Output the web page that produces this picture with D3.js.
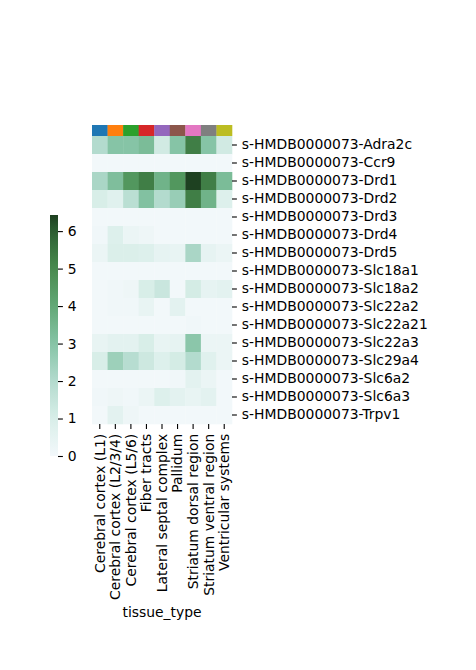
<!DOCTYPE html>
<html>
<head>
<meta charset="utf-8">
<script src="https://cdn.jsdelivr.net/npm/d3@7"></script>
<style>
  body { margin: 0; background: #fff; }
  text { font-family: "DejaVu Sans", sans-serif; fill: #000; }
  .axis path { display: none; }
  .axis line { stroke: #000; stroke-width: 1.1; }
</style>
</head>
<body>
<div class="container"></div>
<script>
const WIDTH = 476;
const HEIGHT = 670;

const HM_LEFT = 92, HM_RIGHT = 232;
const HM_TOP = 136, HM_BOTTOM = 424;
const CC_TOP = 125;
const CB_LEFT = 50, CB_RIGHT = 58, CB_TOP = 215, CB_BOTTOM = 456;
const VMAX = 6.43;
const TICK = 4.9, PAD = 4.9;

var tissues = ["Cerebral cortex (L1)", "Cerebral cortex (L2/3/4)", "Cerebral cortex (L5/6)",
  "Fiber tracts", "Lateral septal complex", "Pallidum", "Striatum dorsal region",
  "Striatum ventral region", "Ventricular systems"];

var tissueColors = ["#1f77b4", "#ff7f0e", "#2ca02c", "#d62728", "#9467bd",
  "#8c564b", "#e377c2", "#7f7f7f", "#bcbd22"];

var genes = ["Adra2c", "Ccr9", "Drd1", "Drd2", "Drd3", "Drd4", "Drd5", "Slc18a1",
  "Slc18a2", "Slc22a2", "Slc22a21", "Slc22a3", "Slc29a4", "Slc6a2", "Slc6a3", "Trpv1"];

var rowPrefix = "s-HMDB0000073-";

var values = [
  [2.0, 3.0, 3.0, 3.3, 1.2, 3.0, 5.3, 3.0, 1.2],
  [0.05, 0.05, 0.05, 0.05, 0.05, 0.05, 0.05, 0.05, 0.05],
  [2.2, 3.2, 4.6, 5.3, 3.6, 4.6, 6.4, 5.3, 3.3],
  [1.0, 0.7, 1.8, 3.1, 2.0, 2.6, 5.3, 3.6, 0.8],
  [0.05, 0.05, 0.05, 0.05, 0.05, 0.05, 0.05, 0.05, 0.05],
  [0.1, 0.8, 0.3, 0.2, 0.05, 0.05, 0.05, 0.05, 0.05],
  [0.3, 0.9, 0.9, 0.8, 0.5, 0.4, 2.2, 0.5, 0.3],
  [0.05, 0.05, 0.05, 0.05, 0.05, 0.05, 0.05, 0.05, 0.05],
  [0.05, 0.1, 0.2, 1.0, 1.4, 0.05, 1.1, 0.5, 0.6],
  [0.05, 0.1, 0.1, 0.4, 0.05, 0.6, 0.05, 0.05, 0.05],
  [0.05, 0.05, 0.05, 0.05, 0.05, 0.05, 0.1, 0.05, 0.05],
  [0.4, 0.6, 0.6, 1.0, 0.4, 0.5, 2.9, 0.3, 0.3],
  [1.0, 2.5, 1.9, 1.3, 0.8, 1.1, 2.0, 0.7, 0.3],
  [0.05, 0.05, 0.05, 0.05, 0.05, 0.1, 0.6, 0.3, 0.05],
  [0.1, 0.2, 0.1, 0.3, 0.8, 0.6, 0.4, 0.6, 0.05],
  [0.05, 0.6, 0.2, 0.05, 0.05, 0.05, 0.05, 0.05, 0.05]
];

var colorbarTicks = [0, 1, 2, 3, 4, 5, 6];

var translate = function(x, y){
  return "translate(" + x + "," + y + ")";
};

var color = d3.scaleLinear()
  .domain([0, 1, 2, 3, 4, 5, 6, VMAX])
  .range(["#f3f8fb", "#d8eee8", "#b3dbce", "#86c4a6", "#62a876", "#488b4e", "#2c5f32", "#1d3f20"])
  .interpolate(d3.interpolateRgb)
  .clamp(true);

var svg = d3.select('.container').append('svg')
  .attr('width', WIDTH)
  .attr('height', HEIGHT);

var x = d3.scaleBand().domain(tissues).range([HM_LEFT, HM_RIGHT]);
var y = d3.scaleBand().domain(genes).range([HM_TOP, HM_BOTTOM]);

// column colours
svg.append('g').selectAll('rect')
  .data(tissues)
  .join('rect')
  .attr('x', d => x(d))
  .attr('y', CC_TOP)
  .attr('width', x.bandwidth() + 0.3)
  .attr('height', HM_TOP - CC_TOP)
  .attr('fill', (d, i) => tissueColors[i]);

// cells
var cells = [];
values.forEach(function(row, r){
  row.forEach(function(v, c){
    cells.push({gene: genes[r], tissue: tissues[c], value: v});
  });
});

svg.append('g').selectAll('rect')
  .data(cells)
  .join('rect')
  .attr('x', d => x(d.tissue))
  .attr('y', d => y(d.gene))
  .attr('width', x.bandwidth() + 0.3)
  .attr('height', y.bandwidth() + 0.3)
  .attr('fill', d => color(d.value));

// row axis on the right
var yAxis = d3.axisRight(y).tickSize(TICK).tickPadding(PAD)
  .tickFormat(d => rowPrefix + d);
svg.append('g')
  .attr('class', 'axis')
  .attr('transform', translate(HM_RIGHT, 0))
  .call(yAxis)
  .selectAll('text')
  .style('font-size', '13.9px');

// column axis at the bottom
var xAxis = d3.axisBottom(x).tickSize(TICK).tickPadding(PAD);
var xg = svg.append('g')
  .attr('class', 'axis')
  .attr('transform', translate(0, HM_BOTTOM))
  .call(xAxis);
xg.selectAll('text')
  .style('font-size', '13.9px')
  .attr('transform', 'rotate(-90)')
  .attr('x', -(TICK + PAD))
  .attr('y', 0)
  .attr('dy', '0.35em')
  .attr('text-anchor', 'end');

svg.append('text')
  .attr('x', (HM_LEFT + HM_RIGHT) / 2)
  .attr('y', 617)
  .attr('text-anchor', 'middle')
  .style('font-size', '13.9px')
  .text('tissue_type');

// colourbar
var cbScale = d3.scaleLinear().domain([0, VMAX]).range([CB_BOTTOM, CB_TOP]);
var defs = svg.append('defs');
var grad = defs.append('linearGradient')
  .attr('id', 'cbgrad')
  .attr('x1', 0).attr('y1', 1).attr('x2', 0).attr('y2', 0);
d3.range(0, 21).forEach(function(i){
  var v = VMAX * i / 20;
  grad.append('stop')
    .attr('offset', (i / 20))
    .attr('stop-color', color(v));
});
svg.append('rect')
  .attr('x', CB_LEFT)
  .attr('y', CB_TOP)
  .attr('width', CB_RIGHT - CB_LEFT)
  .attr('height', CB_BOTTOM - CB_TOP)
  .attr('fill', 'url(#cbgrad)');

var cbAxis = d3.axisRight(cbScale).tickValues(colorbarTicks)
  .tickFormat(d3.format('d')).tickSize(TICK).tickPadding(PAD);
svg.append('g')
  .attr('class', 'axis')
  .attr('transform', translate(CB_RIGHT, 0))
  .call(cbAxis)
  .selectAll('text')
  .style('font-size', '13.9px');
</script>
</body>
</html>
